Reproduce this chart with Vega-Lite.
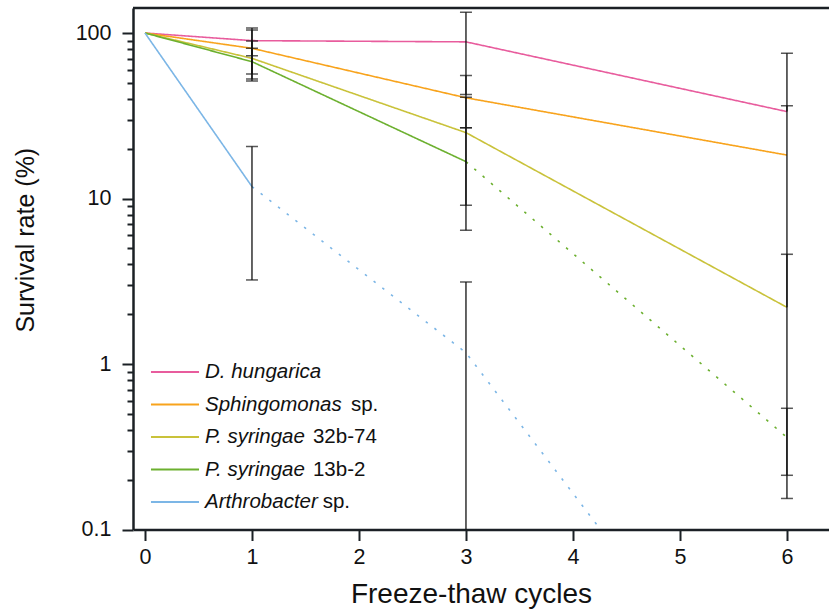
{
  "$schema": "https://vega.github.io/schema/vega-lite/v6.json",
  "width": 696,
  "height": 521.5,
  "autosize": {"type": "none"},
  "padding": {"left": 133, "top": 8, "right": 0, "bottom": 84.5},
  "background": "white",
  "config": {
    "view": {"stroke": null},
    "font": "Liberation Sans",
    "axis": {"grid": false}
  },
  "datasets": {
    "lines": [
      {"species": "D. hungarica", "cycles": 0, "survival": 100, "trend": "measured"},
      {"species": "D. hungarica", "cycles": 1, "survival": 89.9, "trend": "measured"},
      {"species": "D. hungarica", "cycles": 3, "survival": 88.4, "trend": "measured"},
      {"species": "D. hungarica", "cycles": 6, "survival": 33.5, "trend": "measured"},
      {"species": "Sphingomonas sp.", "cycles": 0, "survival": 100, "trend": "measured"},
      {"species": "Sphingomonas sp.", "cycles": 1, "survival": 80.8, "trend": "measured"},
      {"species": "Sphingomonas sp.", "cycles": 3, "survival": 40.6, "trend": "measured"},
      {"species": "Sphingomonas sp.", "cycles": 6, "survival": 18.3, "trend": "measured"},
      {"species": "P. syringae 32b-74", "cycles": 0, "survival": 100, "trend": "measured"},
      {"species": "P. syringae 32b-74", "cycles": 1, "survival": 70.3, "trend": "measured"},
      {"species": "P. syringae 32b-74", "cycles": 3, "survival": 25.0, "trend": "measured"},
      {"species": "P. syringae 32b-74", "cycles": 6, "survival": 2.2, "trend": "measured"},
      {"species": "P. syringae 13b-2", "cycles": 0, "survival": 100, "trend": "measured"},
      {"species": "P. syringae 13b-2", "cycles": 1, "survival": 67.1, "trend": "measured"},
      {"species": "P. syringae 13b-2", "cycles": 3, "survival": 16.7, "trend": "measured"},
      {"species": "P. syringae 13b-2", "cycles": 3, "survival": 16.7, "trend": "estimated"},
      {"species": "P. syringae 13b-2", "cycles": 6, "survival": 0.36, "trend": "estimated"},
      {"species": "Arthrobacter sp.", "cycles": 0, "survival": 100, "trend": "measured"},
      {"species": "Arthrobacter sp.", "cycles": 1, "survival": 11.8, "trend": "measured"},
      {"species": "Arthrobacter sp.", "cycles": 1, "survival": 11.8, "trend": "estimated"},
      {"species": "Arthrobacter sp.", "cycles": 3, "survival": 1.17, "trend": "estimated"},
      {"species": "Arthrobacter sp.", "cycles": 6, "survival": 0.0033, "trend": "estimated"}
    ],
    "errors": [
      {"species": "D. hungarica", "cycles": 1, "mean": 89.9, "low": 72.9, "high": 107.2},
      {"species": "Sphingomonas sp.", "cycles": 1, "mean": 80.8, "low": 56.5, "high": 104.3},
      {"species": "P. syringae 32b-74", "cycles": 1, "mean": 70.3, "low": 51.3, "high": 89.5},
      {"species": "P. syringae 13b-2", "cycles": 1, "mean": 67.1, "low": 52.7, "high": 80.8},
      {"species": "Arthrobacter sp.", "cycles": 1, "mean": 11.8, "low": 3.22, "high": 20.6},
      {"species": "D. hungarica", "cycles": 3, "mean": 88.4, "low": 42.5, "high": 133.4},
      {"species": "Sphingomonas sp.", "cycles": 3, "mean": 40.6, "low": 26.8, "high": 55.4},
      {"species": "P. syringae 32b-74", "cycles": 3, "mean": 25.0, "low": 9.1, "high": 40.9},
      {"species": "P. syringae 13b-2", "cycles": 3, "mean": 16.7, "low": 6.43, "high": 26.8},
      {"species": "Arthrobacter sp.", "cycles": 3, "mean": 1.17, "low": 0.01, "high": 3.13},
      {"species": "D. hungarica", "cycles": 6, "mean": 33.5, "low": 33.5, "high": 75.4},
      {"species": "Sphingomonas sp.", "cycles": 6, "mean": 18.3, "low": 0.2126, "high": 36.4},
      {"species": "P. syringae 32b-74", "cycles": 6, "mean": 2.2, "low": 2.2, "high": 4.6},
      {"species": "P. syringae 13b-2", "cycles": 6, "mean": 0.36, "low": 0.154, "high": 0.54}
    ],
    "legend": [
      {"species": "D. hungarica", "italic": "D. hungarica", "regular": ""},
      {"species": "Sphingomonas sp.", "italic": "Sphingomonas", "regular": "sp."},
      {"species": "P. syringae 32b-74", "italic": "P. syringae", "regular": "32b-74"},
      {"species": "P. syringae 13b-2", "italic": "P. syringae", "regular": "13b-2"},
      {"species": "Arthrobacter sp.", "italic": "Arthrobacter", "regular": "sp."}
    ],
    "frame": [{"edge": "top"}]
  },
  "layer": [
    {
      "layer": [
        {
          "data": {"name": "frame"},
          "mark": {"type": "rule", "color": "#1b2025", "strokeWidth": 2.5},
          "encoding": {
            "y": {"datum": 141.6, "type": "quantitative"}
          }
        },
        {
          "data": {"name": "lines"},
          "mark": {"type": "line", "strokeWidth": 1.6, "clip": true},
          "encoding": {
            "x": {
              "field": "cycles",
              "type": "quantitative",
              "scale": {"domain": [-0.112, 6.393], "nice": false, "zero": false},
              "axis": {
                "values": [0, 1, 2, 3, 4, 5, 6],
                "format": "d",
                "title": "Freeze-thaw cycles",
                "titleFontSize": 28,
                "titleFontWeight": "normal",
                "titleColor": "#111",
                "titleX": 338,
                "titleY": 72.8,
                "titleBaseline": "alphabetic",
                "labelFontSize": 21.5,
                "labelColor": "#111",
                "labelPadding": 6,
                "tickSize": 11,
                "tickWidth": 2,
                "tickColor": "#1b2025",
                "domainColor": "#1b2025",
                "domainWidth": 2.5
              }
            },
            "y": {
              "field": "survival",
              "type": "quantitative",
              "scale": {"type": "log", "domain": [0.1, 141.6], "nice": false},
              "axis": {
                "values": [0.1, 0.2, 0.3, 0.4, 0.5, 0.6, 0.7, 0.8, 0.9, 1, 2, 3, 4, 5, 6, 7, 8, 9, 10, 20, 30, 40, 50, 60, 70, 80, 90, 100],
                "format": "~g",
                "labelExpr": "indexof([0.1, 1, 10, 100], datum.value) >= 0 ? datum.label : ''",
                "tickSize": {"condition": {"test": "indexof([0.1, 1, 10, 100], datum.value) >= 0", "value": 11}, "value": 6},
                "tickWidth": 2,
                "tickColor": "#1b2025",
                "domainColor": "#1b2025",
                "domainWidth": 2.5,
                "labelFontSize": 21.5,
                "labelColor": "#111",
                "labelPadding": 11,
                "title": "Survival rate (%)",
                "titleFontSize": 25,
                "titleFontWeight": "normal",
                "titleColor": "#111",
                "titleAngle": -90,
                "titleX": -99.5,
                "titleY": 231.7,
                "titleBaseline": "alphabetic",
                "titleAlign": "center"
              }
            },
            "color": {
              "field": "species",
              "type": "nominal",
              "scale": {
                "domain": ["D. hungarica", "Sphingomonas sp.", "P. syringae 32b-74", "P. syringae 13b-2", "Arthrobacter sp."],
                "range": ["#e85c9d", "#f8a31c", "#c9c23a", "#6cb02f", "#7cb6e6"]
              },
              "legend": null
            },
            "strokeDash": {
              "field": "trend",
              "type": "nominal",
              "scale": {"domain": ["measured", "estimated"], "range": [[1, 0], [2.5, 8.5]]},
              "legend": null
            }
          }
        },
        {
          "data": {"name": "errors"},
          "mark": {"type": "rule", "color": "#111", "strokeWidth": 1.3, "clip": true},
          "encoding": {
            "x": {"field": "cycles", "type": "quantitative"},
            "y": {"field": "low", "type": "quantitative"},
            "y2": {"field": "high"}
          }
        },
        {
          "data": {"name": "errors"},
          "mark": {"type": "tick", "orient": "horizontal", "color": "#111", "size": 12, "thickness": 1.5, "clip": true},
          "encoding": {
            "x": {"field": "cycles", "type": "quantitative"},
            "y": {"field": "high", "type": "quantitative"}
          }
        },
        {
          "data": {"name": "errors"},
          "transform": [{"filter": "datum.low < datum.mean && datum.low >= 0.1"}],
          "mark": {"type": "tick", "orient": "horizontal", "color": "#111", "size": 12, "thickness": 1.5, "clip": true},
          "encoding": {
            "x": {"field": "cycles", "type": "quantitative"},
            "y": {"field": "low", "type": "quantitative"}
          }
        }
      ]
    },
    {
      "data": {"name": "legend"},
      "layer": [
        {
          "mark": {"type": "rule", "strokeWidth": 2},
          "encoding": {
            "x": {"datum": 0.056, "type": "quantitative"},
            "x2": {"datum": 0.505},
            "y": {
              "field": "species",
              "type": "nominal",
              "scale": {"type": "point", "domain": ["D. hungarica", "Sphingomonas sp.", "P. syringae 32b-74", "P. syringae 13b-2", "Arthrobacter sp."], "range": [364, 494], "padding": 0},
              "axis": null
            },
            "color": {"field": "species", "type": "nominal", "legend": null}
          }
        },
        {
          "mark": {"type": "text", "align": "left", "baseline": "middle", "fontStyle": "italic", "fontSize": 20.5, "color": "#111"},
          "encoding": {
            "x": {"datum": 0.561, "type": "quantitative"},
            "y": {"field": "species", "type": "nominal", "axis": null},
            "text": {"field": "italic"}
          }
        },
        {
          "transform": [{"filter": "datum.italic === 'Sphingomonas'"}],
          "mark": {"type": "text", "align": "left", "baseline": "middle", "fontSize": 20.5, "color": "#111"},
          "encoding": {
            "x": {"datum": 1.925, "type": "quantitative"},
            "y": {"field": "species", "type": "nominal", "axis": null},
            "text": {"field": "regular"}
          }
        },
        {
          "transform": [{"filter": "datum.italic === 'P. syringae'"}],
          "mark": {"type": "text", "align": "left", "baseline": "middle", "fontSize": 20.5, "color": "#111"},
          "encoding": {
            "x": {"datum": 1.57, "type": "quantitative"},
            "y": {"field": "species", "type": "nominal", "axis": null},
            "text": {"field": "regular"}
          }
        },
        {
          "transform": [{"filter": "datum.italic === 'Arthrobacter'"}],
          "mark": {"type": "text", "align": "left", "baseline": "middle", "fontSize": 20.5, "color": "#111"},
          "encoding": {
            "x": {"datum": 1.661, "type": "quantitative"},
            "y": {"field": "species", "type": "nominal", "axis": null},
            "text": {"field": "regular"}
          }
        }
      ]
    }
  ],
  "resolve": {"scale": {"y": "independent"}}
}
